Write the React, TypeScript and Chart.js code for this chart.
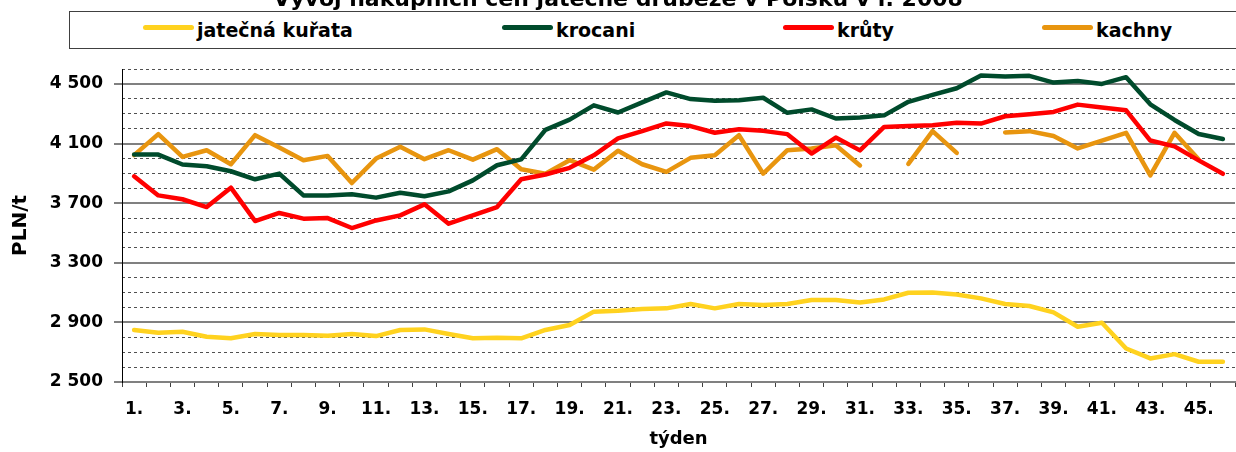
import React, { useEffect, useRef } from "react";
import { Chart, registerables } from "chart.js";

Chart.register(...registerables);

const chartTitle = "Vývoj nákupních cen jatečné drůbeže v Polsku v r. 2008";
const xTitle = "týden";
const yTitle = "PLN/t";

const weekLabels = [
  "1.", "2.", "3.", "4.", "5.", "6.", "7.", "8.", "9.", "10.",
  "11.", "12.", "13.", "14.", "15.", "16.", "17.", "18.", "19.", "20.",
  "21.", "22.", "23.", "24.", "25.", "26.", "27.", "28.", "29.", "30.",
  "31.", "32.", "33.", "34.", "35.", "36.", "37.", "38.", "39.", "40.",
  "41.", "42.", "43.", "44.", "45.", "46.",
];

const seriesNames = ["jatečná kuřata", "krocani", "krůty", "kachny"];
const seriesColors = ["#FFD21F", "#004B2C", "#FF0000", "#E8950F"];

const kurata = [
  2849, 2831, 2837, 2804, 2793, 2822, 2815, 2815, 2811, 2822,
  2808, 2849, 2853, 2822, 2793, 2797, 2793, 2849, 2882, 2972,
  2978, 2989, 2994, 3023, 2994, 3023, 3016, 3023, 3050, 3050,
  3034, 3054, 3099, 3101, 3087, 3061, 3023, 3010, 2967, 2871,
  2898, 2725, 2658, 2687, 2636, 2636,
];

const krocani = [
  4026, 4026, 3959, 3948, 3914, 3860, 3898, 3752, 3752, 3759,
  3737, 3770, 3746, 3779, 3853, 3954, 3994, 4192, 4260, 4356,
  4308, 4376, 4443, 4398, 4387, 4391, 4407, 4306, 4329, 4268,
  4275, 4289, 4380, 4426, 4471, 4556, 4549, 4554, 4509, 4520,
  4500, 4545, 4363, 4258, 4164, 4130,
];

const kruty = [
  3880, 3752, 3726, 3674, 3804, 3580, 3634, 3596, 3600, 3533,
  3584, 3618, 3692, 3562, 3618, 3674, 3860, 3892, 3937, 4021,
  4134, 4183, 4235, 4217, 4172, 4196, 4185, 4163, 4033, 4140,
  4054, 4211, 4218, 4223, 4240, 4234, 4283, 4297, 4312, 4361,
  4341, 4323, 4120, 4081, 3987, 3897,
];

const kachny = [
  4022, 4163, 4010, 4055, 3961, 4156, 4073, 3988, 4017, 3835,
  3999, 4078, 3995, 4055, 3992, 4062, 3927, 3898, 3988, 3925,
  4051, 3961, 3910, 4004, 4022, 4156, 3898, 4055, 4066, 4089,
  3953, null, 3963, 4183, 4037, null, 4174, 4183, 4150, 4067,
  4119, 4172, 3886, 4172, 3993, null,
];

const yMin = 2500;
const yMax = 4600;
const yMinorStep = 100;
const yMajorStep = 400;

const FONT = "DejaVu Sans";

function fmtThousands(v: number): string {
  const th = Math.floor(v / 1000);
  const rest = String(v % 1000).padStart(3, "0");
  return th > 0 ? th + " " + rest : String(v);
}

const isMajor = (v: number) => (v - yMin) % yMajorStep === 0;

// legend swatch start x (page px)
const legendSwatchX = [143, 502, 783, 1042];

export default function App() {
  const canvasRef = useRef<HTMLCanvasElement | null>(null);

  useEffect(() => {
    const canvas = canvasRef.current;
    if (!canvas) return;
    const allSeries = [kurata, krocani, kruty, kachny];
    const chart = new Chart(canvas, {
      type: "line",
      data: {
        labels: weekLabels,
        datasets: allSeries.map((d, i) => ({
          label: seriesNames[i],
          data: d,
          borderColor: seriesColors[i],
          backgroundColor: seriesColors[i],
          borderWidth: 4.5,
          pointRadius: 0,
          tension: 0,
          spanGaps: false,
          borderCapStyle: "round",
          borderJoinStyle: "round",
          yAxisID: "y",
        })),
      },
      options: {
        animation: false,
        responsive: false,
        maintainAspectRatio: false,
        layout: { padding: { top: 69, right: 1, left: 0, bottom: 0 } },
        plugins: {
          legend: { display: false },
          tooltip: { enabled: false },
          title: { display: false },
        },
        scales: {
          x: {
            type: "category",
            offset: true,
            grid: {
              offset: true,
              drawOnChartArea: false,
              drawTicks: true,
              tickLength: 5,
              color: "#404040",
              tickColor: "#404040",
              lineWidth: 1,
            },
            border: { display: true, color: "#808080", width: 2 },
            ticks: {
              autoSkip: false,
              maxRotation: 0,
              minRotation: 0,
              padding: 12,
              color: "#000",
              font: { family: FONT, size: 17, weight: "bold" },
              callback: (_v: any, i: number) => (i % 2 === 0 ? weekLabels[i] : ""),
            },
            title: {
              display: true,
              text: xTitle,
              color: "#000",
              font: { family: FONT, size: 18, weight: "bold" },
              padding: { top: 0, bottom: 2 },
            },
            afterFit: (s: any) => {
              s.height = 70;
            },
          },
          yMinor: {
            type: "linear",
            position: "left",
            min: yMin,
            max: yMax,
            grid: {
              drawOnChartArea: true,
              drawTicks: false,
              color: (ctx: any) =>
                ctx.tick && isMajor(ctx.tick.value) ? "rgba(0,0,0,0)" : "#505050",
              lineWidth: 1,
            },
            border: { display: false, dash: [3, 3] },
            ticks: { display: false, stepSize: yMinorStep, autoSkip: false },
            afterFit: (s: any) => {
              s.width = 0;
            },
          },
          y: {
            type: "linear",
            position: "left",
            min: yMin,
            max: yMax,
            grid: {
              drawOnChartArea: true,
              drawTicks: true,
              tickLength: 8,
              color: (ctx: any) =>
                ctx.tick && isMajor(ctx.tick.value) ? "#808080" : "rgba(0,0,0,0)",
              tickColor: (ctx: any) =>
                ctx.tick && isMajor(ctx.tick.value) ? "#808080" : "rgba(0,0,0,0)",
              lineWidth: 2,
              tickWidth: 2,
            },
            border: { display: true, color: "#000", width: 1 },
            ticks: {
              stepSize: yMinorStep,
              autoSkip: false,
              padding: 11,
              color: "#000",
              font: { family: FONT, size: 17, weight: "bold" },
              callback: (v: any) => (isMajor(Number(v)) ? fmtThousands(Number(v)) : ""),
            },
            title: {
              display: true,
              text: yTitle,
              color: "#000",
              font: { family: FONT, size: 20, weight: "bold" },
              padding: { top: 9, bottom: 0 },
            },
            afterFit: (s: any) => {
              s.width = 122;
            },
          },
        },
      },
    } as any);
    return () => chart.destroy();
  }, []);

  return (
    <div
      style={{
        position: "absolute",
        left: 0,
        top: 0,
        width: 1236,
        height: 452,
        overflow: "hidden",
        background: "#fff",
      }}
    >
      <canvas
        ref={canvasRef}
        width={1236}
        height={452}
        style={{ position: "absolute", left: 0, top: 0, width: 1236, height: 452 }}
      />
      <div
        style={{
          position: "absolute",
          left: 0,
          top: -12,
          width: 1236,
          textAlign: "center",
          fontFamily: FONT,
          fontWeight: "bold",
          fontSize: 22,
          lineHeight: "22px",
          whiteSpace: "nowrap",
          color: "#000",
        }}
      >
        {chartTitle}
      </div>
      <div
        style={{
          position: "absolute",
          left: 69,
          top: 11,
          width: 1236 - 69 + 20,
          height: 38,
          boxSizing: "border-box",
          border: "1px solid #404040",
          background: "#fff",
        }}
      />
      {seriesNames.map((name, i) => (
        <React.Fragment key={name}>
          <div
            style={{
              position: "absolute",
              left: legendSwatchX[i],
              top: 25,
              width: 51,
              height: 4.5,
              borderRadius: 3,
              background: seriesColors[i],
            }}
          />
          <div
            style={{
              position: "absolute",
              left: legendSwatchX[i] + 54,
              top: 21,
              fontFamily: FONT,
              fontWeight: "bold",
              fontSize: 19,
              lineHeight: "19px",
              whiteSpace: "nowrap",
              color: "#000",
            }}
          >
            {name}
          </div>
        </React.Fragment>
      ))}
    </div>
  );
}
